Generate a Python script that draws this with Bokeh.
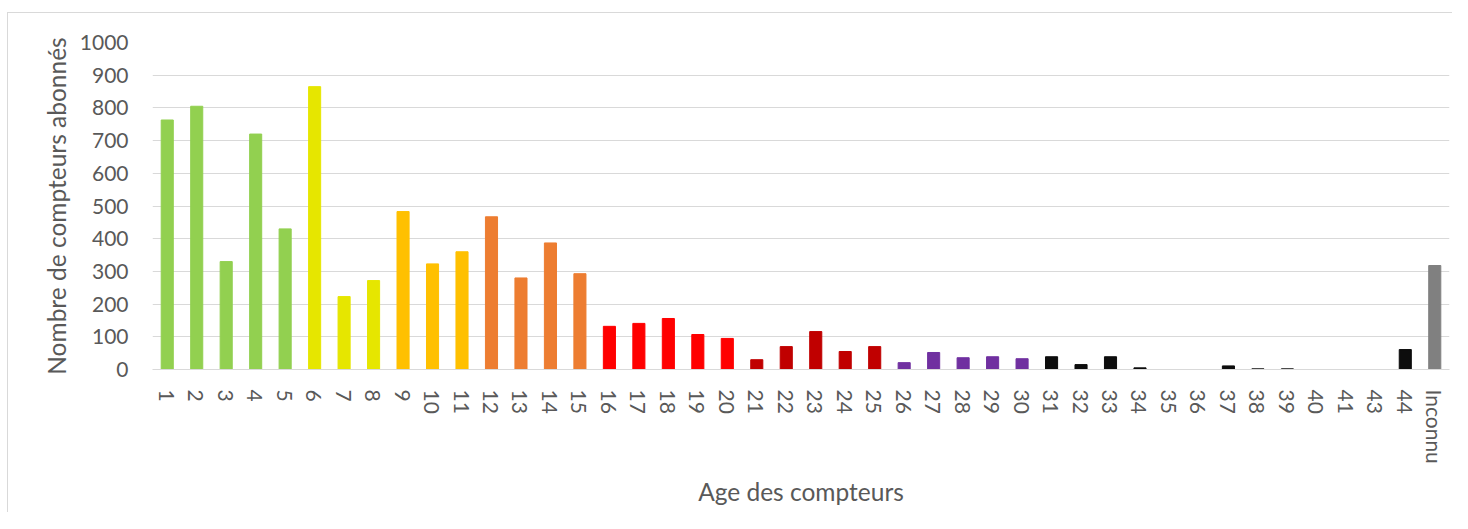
from bokeh.plotting import figure
from bokeh.models import ColumnDataSource, Range1d, FactorRange
from bokeh.embed import file_html
from bokeh.resources import INLINE

ages = ["1", "2", "3", "4", "5", "6", "7", "8", "9", "10", "11", "12", "13", "14", "15",
        "16", "17", "18", "19", "20", "21", "22", "23", "24", "25", "26", "27", "28", "29", "30",
        "31", "32", "33", "34", "35", "36", "37", "38", "39", "40", "41", "43", "44", "Inconnu"]
counts = [763, 805, 330, 720, 430, 865, 223, 272, 483, 323, 360, 467, 280, 387, 293,
          132, 141, 156, 107, 95, 30, 70, 116, 55, 70, 21, 52, 36, 39, 33,
          39, 15, 39, 5, 0, 0, 11, 2, 2, 0, 0, 0, 61, 318]
groups = ["g1"] * 5 + ["g2"] * 3 + ["g3"] * 3 + ["g4"] * 4 + ["g5"] * 5 + ["g6"] * 5 + \
         ["g7"] * 5 + ["g8"] * 13 + ["g9"]
group_colors = {"g1": "#92D050", "g2": "#E6E600", "g3": "#FFC000", "g4": "#ED7D31",
                "g5": "#FF0000", "g6": "#C00000", "g7": "#7030A0", "g8": "#0D0D0D",
                "g9": "#808080"}

FONT = "Lato"
TXT = "#595959"

src = ColumnDataSource(dict(x=ages, top=counts, color=[group_colors[g] for g in groups]))

p = figure(x_range=FactorRange(*ages), y_range=Range1d(0, 1000),
           width=1445, height=500, output_backend="svg", toolbar_location=None,
           min_border_left=144, min_border_right=4, min_border_top=29, min_border_bottom=144)
p.styles = {"border-top": "1px solid #D9D9D9", "border-left": "1px solid #D9D9D9",
            "margin-left": "7px", "margin-top": "12px"}
p.vbar(x="x", top="top", width=0.41, color="color", source=src)

p.outline_line_color = None
p.xgrid.grid_line_color = None
p.ygrid.grid_line_color = "#D9D9D9"
p.ygrid.grid_line_width = 1
p.yaxis.ticker = [0, 100, 200, 300, 400, 500, 600, 700, 800, 900, 1000]

for ax in (p.xaxis[0], p.yaxis[0]):
    ax.major_tick_line_color = None
    ax.minor_tick_line_color = None
    ax.major_label_text_font = FONT
    ax.major_label_text_color = TXT
    ax.major_label_text_font_size = "21px"
    ax.axis_label_text_font = FONT
    ax.axis_label_text_color = TXT
    ax.axis_label_text_font_size = "24.5px"
    ax.axis_label_text_font_style = "normal"

p.yaxis.axis_line_color = None
p.xaxis.axis_line_color = "#D9D9D9"
p.xaxis.major_label_orientation = "vertical"
p.xaxis.axis_label = "Age des compteurs"
p.yaxis.axis_label = "Nombre de compteurs abonnés"
p.xaxis.axis_label_standoff = 10
p.yaxis.axis_label_standoff = 6
p.xaxis.major_label_standoff = 14
p.yaxis.major_label_standoff = 18

open("out.html", "w").write(file_html(p, INLINE))
